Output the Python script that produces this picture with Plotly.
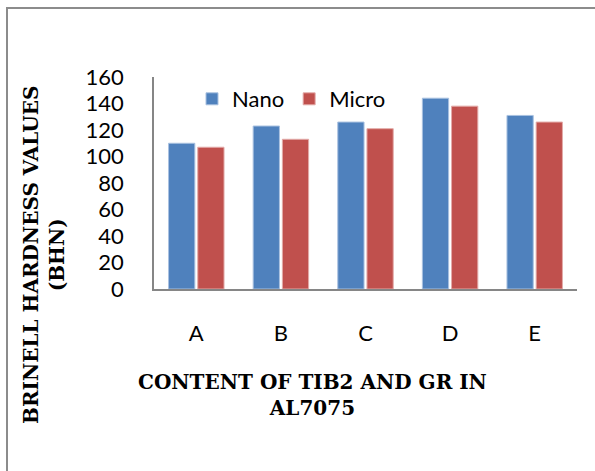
import plotly.graph_objects as go

categories = ["A", "B", "C", "D", "E"]
nano = [110, 123, 126, 144, 131]
micro = [107, 113, 121, 138, 126]
y_ticks = [0, 20, 40, 60, 80, 100, 120, 140, 160]

W, H = 595, 471
L, R, T, B = 154, 18, 77, 182
pw, ph = W - L - R, H - T - B


def px(x):
    return (x - L) / pw


def py(y):
    return (H - B - y) / ph


fig = go.Figure()
fig.add_trace(go.Bar(name="Nano", x=categories, y=nano,
                     marker=dict(color="#4F81BD", line=dict(color="#A9C1E0", width=1))))
fig.add_trace(go.Bar(name="Micro", x=categories, y=micro,
                     marker=dict(color="#C0504D", line=dict(color="#E3ABA9", width=1))))

tick_font = dict(family="Lato", size=22, color="#000000")

fig.update_layout(
    width=W, height=H,
    margin=dict(l=L, r=R, t=T, b=B, pad=0),
    paper_bgcolor="white", plot_bgcolor="white",
    barmode="group", bargap=0.31, bargroupgap=0.1,
    showlegend=True,
    legend=dict(orientation="h", x=px(192), y=py(99), xanchor="left", yanchor="middle",
                font=tick_font, bgcolor="rgba(0,0,0,0)", itemwidth=30,
                traceorder="normal"),
    xaxis=dict(showline=True, linecolor="#868686", linewidth=1.5, ticks="",
               tickfont=tick_font, ticklabelstandoff=24, showgrid=False),
    yaxis=dict(range=[0, 160], tickvals=y_ticks, showline=True, linecolor="#868686",
               linewidth=1.5, ticks="", tickfont=tick_font, ticklabelstandoff=24,
               showgrid=False, zeroline=False),
    font=dict(family="Lato"),
)

title_font = dict(family="DejaVu Serif", size=20, color="#000000")
fig.add_annotation(text="<b>BRINELL HARDNESS VALUES</b><br><b>(BHN)</b>",
                   x=px(44), y=py(255), xref="paper", yref="paper",
                   xanchor="center", yanchor="middle", textangle=-90,
                   showarrow=False, font=title_font)
fig.add_annotation(text="<b>CONTENT OF TIB2 AND GR IN</b><br><b>AL7075</b>",
                   x=px(312), y=py(395), xref="paper", yref="paper",
                   xanchor="center", yanchor="middle",
                   showarrow=False, font=title_font)

fig.add_shape(type="rect", xref="paper", yref="paper",
              x0=px(7), x1=px(640), y0=py(520), y1=py(8),
              line=dict(color="#8C8C8C", width=2), fillcolor="rgba(0,0,0,0)", layer="below")

fig.write_html("out.html",
               config={"displayModeBar": False},
               post_script="document.body.style.margin='0';document.body.style.overflow='hidden';")
